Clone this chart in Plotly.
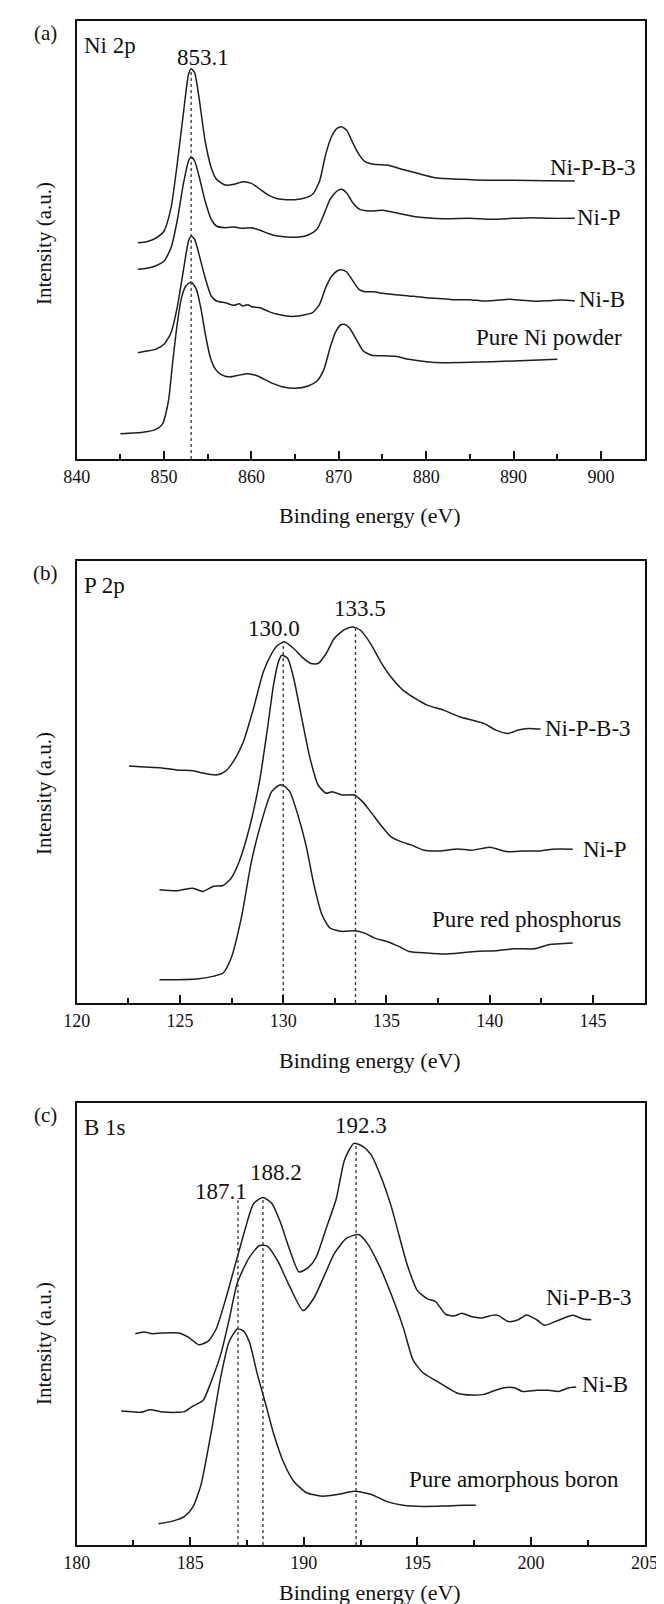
import plotly.graph_objects as go

FONT = "Liberation Serif, Times New Roman, DejaVu Serif, serif"
INK = "#1e1e1e"

# ---------------- Panel (a): Ni 2p ----------------
a_pure_x = [845.0, 846.5, 848.0, 849.0, 849.8, 850.5, 851.0, 851.5, 852.0, 852.5, 853.1, 853.7, 854.2, 854.8, 855.3, 855.9,
            856.5, 857.5, 858.5, 859.5, 860.5, 861.5, 862.5, 863.5, 865.0, 866.5, 867.5, 868.3, 869.0, 869.6, 870.2, 870.6,
            871.2, 872.0, 872.8, 873.8, 875.0, 876.5, 878.0, 880.0, 882.0, 885.0, 890.0, 895.0]
a_pure_y = [76, 78, 82, 88, 104, 174, 294, 404, 484, 519, 531, 509, 454, 364, 304, 269,
            254, 246, 251, 256, 251, 239, 226, 217, 212, 219, 234, 269, 334, 379, 402, 404,
            394, 359, 324, 311, 310, 308, 299, 292, 289, 290, 294, 299]

a_nib_x = [847.0, 848.0, 849.0, 850.0, 850.8, 851.5, 852.2, 852.8, 853.1, 853.5, 854.0, 854.7, 855.4, 856.0, 857.0, 858.0,
           858.6, 859.0, 859.6, 860.0, 861.0, 862.0, 863.0, 864.0, 865.0, 866.0, 867.0, 867.8, 868.5, 869.2, 869.8, 870.3,
           870.9, 871.5, 872.3, 873.0, 874.0, 875.0, 876.0, 877.0, 878.0, 879.0, 880.0, 882.0, 883.0, 885.0, 886.5, 888.0,
           889.5, 891.0, 892.5, 894.0, 895.5, 897.0]
a_nib_y = [319, 324, 329, 344, 379, 454, 564, 654, 669, 659, 614, 544, 489, 474, 469, 461,
           466, 459, 463, 457, 454, 442, 434, 429, 428, 432, 439, 464, 514, 549, 564, 568,
           561, 539, 509, 502, 502, 497, 494, 492, 489, 487, 484, 481, 478, 478, 474, 476,
           479, 476, 473, 475, 477, 474]

a_nip_x = [847.0, 848.0, 849.0, 850.0, 850.8, 851.5, 852.2, 852.8, 853.1, 853.5, 854.0, 854.7, 855.4, 856.0, 857.0, 858.0,
           859.0, 860.0, 861.0, 862.0, 863.0, 864.0, 865.5, 866.5, 867.5, 868.3, 869.0, 869.8, 870.3, 870.9, 871.6, 872.4,
           873.5, 875.0, 877.0, 879.0, 882.0, 885.0, 887.5, 890.0, 892.0, 894.0, 897.0]
a_nip_y = [569, 572, 579, 594, 634, 714, 824, 894, 906, 894, 849, 774, 719, 699, 694, 696,
           692, 694, 686, 676, 669, 666, 666, 672, 689, 734, 779, 804, 809, 798, 769, 749,
           744, 746, 736, 726, 721, 722, 719, 722, 724, 722, 722]

a_npb_x = [847.0, 848.0, 849.0, 850.0, 850.8, 851.5, 852.2, 852.8, 853.1, 853.5, 854.0, 854.7, 855.4, 856.0, 857.0, 858.0,
           859.0, 860.0, 861.0, 862.0, 863.0, 864.0, 865.0, 866.0, 867.0, 867.8, 868.5, 869.2, 869.8, 870.3, 870.9, 871.5,
           872.3, 873.0, 874.0, 875.5, 877.0, 879.0, 881.0, 884.0, 887.0, 890.0, 894.0, 897.0]
a_npb_y = [649, 652, 662, 684, 754, 884, 1034, 1154, 1171, 1159, 1084, 954, 874, 839, 822, 824,
           832, 827, 809, 791, 781, 778, 778, 782, 794, 834, 914, 969, 992, 997, 986, 954,
           914, 892, 884, 882, 871, 857, 844, 839, 836, 836, 835, 834]

a_peaks = [853.1]
a_peak_tops = [1168]
a_peak_labels = ["853.1"]
a_label_x = [854.4]
a_label_y = [1204]
a_names = ["Ni-P-B-3", "Ni-P", "Ni-B", "Pure Ni powder"]
a_name_x = [904.2, 902.4, 903.0, 902.6]
a_name_y = [874, 724, 479, 364]

# ---------------- Panel (b): P 2p ----------------
b_npb_x = [122.53, 123.27, 124.05, 124.84, 125.62, 126.01, 126.75, 127.18, 127.58, 128.07, 128.56, 129.04, 129.44, 129.73,
           130.08, 130.51, 130.9, 131.34, 131.69, 132.08, 132.47, 132.96, 133.35, 133.74, 134.23, 134.72, 135.21, 135.8,
           136.39, 136.97, 137.76, 138.54, 139.13, 139.71, 140.3, 140.89, 141.38, 141.87, 142.46]
b_npb_y = [712, 709, 707, 700, 698, 692, 685, 695, 725, 785, 885, 995, 1050, 1075,
           1085, 1065, 1040, 1020, 1020, 1050, 1095, 1122, 1130, 1120, 1080, 1025, 980, 940,
           915, 895, 880, 860, 850, 840, 820, 810, 820, 825, 823]

b_nip_x = [124.01, 124.84, 125.62, 126.11, 126.6, 127.09, 127.48, 127.87, 128.36, 128.85, 129.24, 129.53, 129.77, 129.93,
           130.22, 130.51, 130.9, 131.3, 131.69, 132.08, 132.37, 132.86, 133.45, 133.84, 134.23, 134.72, 135.21, 135.7,
           136.19, 136.78, 137.56, 138.44, 139.13, 140.01, 140.79, 141.67, 142.46, 143.04, 144.02]
b_nip_y = [340, 337, 345, 335, 350, 353, 375, 425, 525, 665, 825, 955, 1025, 1045,
           1035, 975, 855, 735, 655, 630, 635, 625, 625, 605, 575, 535, 500, 485,
           475, 460, 457, 463, 459, 468, 455, 457, 457, 462, 462]

b_pure_x = [124.01, 124.84, 125.81, 126.6, 127.09, 127.48, 127.97, 128.46, 128.95, 129.44, 129.83, 130.02, 130.32, 130.71,
            131.1, 131.49, 131.88, 132.27, 132.86, 133.45, 133.94, 134.43, 135.02, 135.6, 136.09, 136.97, 137.76, 138.54,
            139.32, 140.3, 141.18, 142.16, 142.85, 144.02]
b_pure_y = [70, 70, 72, 80, 90, 135, 255, 425, 545, 635, 655, 653, 635, 565,
            475, 355, 265, 225, 215, 217, 210, 195, 185, 170, 155, 150, 147, 150,
            155, 157, 163, 163, 175, 180]

b_peaks = [130.0, 133.5]
b_peak_tops = [1080, 1125]
b_peak_labels = ["130.0", "133.5"]
b_label_x = [129.55, 133.7]
b_label_y = [1125, 1185]
b_names = ["Ni-P-B-3", "Ni-P", "Pure red phosphorus"]
b_name_x = [146.96, 146.7, 146.47]
b_name_y = [825, 460, 250]

# ---------------- Panel (c): B 1s ----------------
c_npb_x = [182.58, 182.97, 183.33, 183.77, 184.49, 184.93, 185.38, 185.79, 186.14, 186.53, 186.98, 187.43, 187.78, 188.19,
           188.58, 188.94, 189.38, 189.79, 190.19, 190.54, 190.99, 191.43, 191.79, 192.2, 192.59, 192.95, 193.39, 193.84,
           194.19, 194.55, 194.99, 195.44, 195.79, 196.24, 196.6, 196.95, 197.4, 197.84, 198.29, 198.55, 199.0, 199.44,
           199.8, 200.25, 200.6, 201.05, 201.46, 201.85, 202.29, 202.65]
c_npb_y = [575, 580, 575, 577, 577, 565, 545, 555, 588, 663, 763, 863, 928, 946,
           931, 883, 803, 743, 755, 783, 863, 943, 1048, 1093, 1085, 1063, 1003, 923,
           843, 763, 693, 670, 663, 628, 623, 631, 621, 618, 625, 625, 608, 613,
           626, 613, 598, 608, 618, 625, 615, 613]

c_nib_x = [181.96, 182.44, 182.8, 183.24, 183.69, 184.4, 184.75, 185.11, 185.56, 185.91, 186.36, 186.71, 187.07, 187.6,
           188.05, 188.4, 188.85, 189.38, 189.97, 190.45, 190.9, 191.34, 191.88, 192.41, 192.77, 193.3, 193.84, 194.37,
           194.81, 195.26, 195.79, 196.33, 196.77, 197.4, 197.93, 198.29, 198.82, 199.27, 199.62, 200.25, 200.78, 201.22,
           201.67, 201.99]
c_nib_y = [365, 363, 361, 368, 363, 361, 363, 378, 393, 443, 523, 613, 713, 783,
           815, 813, 773, 703, 638, 673, 733, 793, 835, 845, 823, 763, 683, 593,
           503, 468, 448, 428, 413, 408, 410, 418, 428, 428, 418, 421, 421, 418,
           428, 430]

c_pure_x = [183.6, 184.22, 184.75, 185.11, 185.47, 185.91, 186.36, 186.71, 187.07, 187.34, 187.6, 187.96, 188.32, 188.67,
            189.12, 189.56, 190.1, 190.81, 191.52, 192.23, 192.95, 193.66, 194.37, 195.26, 196.15, 197.04, 197.57]
c_pure_y = [58, 65, 78, 103, 163, 303, 463, 553, 588, 583, 553, 463, 383, 303,
            223, 173, 143, 133, 138, 146, 138, 118, 108, 105, 106, 108, 108]

c_peaks = [187.1, 188.2, 192.3]
c_peak_tops = [938, 943, 1088]
c_peak_labels = ["187.1", "188.2", "192.3"]
c_label_x = [186.34, 188.78, 192.52]
c_label_y = [963, 1013, 1143]
c_names = ["Ni-P-B-3", "Ni-B", "Pure amorphous boron"]
c_name_x = [204.52, 204.34, 203.98]
c_name_y = [673, 438, 178]

W, H = 664, 1604
X0, X1 = 57, 649
panels = [
    dict(tag="(a)", core="Ni 2p", top=13, bot=451, xr=[840, 905], yr=[0, 1314], dtick=10, mdt=5, t0=840,
         series=[(a_pure_x, a_pure_y), (a_nib_x, a_nib_y), (a_nip_x, a_nip_y), (a_npb_x, a_npb_y)],
         peaks=a_peaks, tops=a_peak_tops, plabels=a_peak_labels, plx=a_label_x, ply=a_label_y,
         names=a_names, nx=a_name_x, ny=a_name_y, ytitle=236, xtitle=508),
    dict(tag="(b)", core="P 2p", top=553, bot=995, xr=[120, 147.5], yr=[0, 1328], dtick=5, mdt=2.5, t0=120,
         series=[(b_pure_x, b_pure_y), (b_nip_x, b_nip_y), (b_npb_x, b_npb_y)],
         peaks=b_peaks, tops=b_peak_tops, plabels=b_peak_labels, plx=b_label_x, ply=b_label_y,
         names=b_names, nx=b_name_x, ny=b_name_y, ytitle=786, xtitle=1052),
    dict(tag="(c)", core="B 1s", top=1095, bot=1537, xr=[180, 205], yr=[0, 1203], dtick=5, mdt=2.5, t0=180,
         series=[(c_pure_x, c_pure_y), (c_nib_x, c_nib_y), (c_npb_x, c_npb_y)],
         peaks=c_peaks, tops=c_peak_tops, plabels=c_peak_labels, plx=c_label_x, ply=c_label_y,
         names=c_names, nx=c_name_x, ny=c_name_y, ytitle=1336, xtitle=1584),
]

fig = go.Figure()
annotations = []
layout = {}

def py(px):
    return 1 - px / H

def txt(size):
    return dict(family=FONT, size=size, color="#111")

for i, p in enumerate(panels):
    n = "" if i == 0 else str(i + 1)
    xa, ya = "x" + n, "y" + n
    for sx, sy in p["series"]:
        fig.add_trace(go.Scatter(x=sx, y=sy, mode="lines", xaxis=xa, yaxis=ya,
                                 line=dict(color=INK, width=1.5, shape="spline", smoothing=0.6),
                                 showlegend=False, hoverinfo="skip"))
    for pk, tp in zip(p["peaks"], p["tops"]):
        fig.add_trace(go.Scatter(x=[pk, pk], y=[0, tp], mode="lines", xaxis=xa, yaxis=ya,
                                 line=dict(color="#333333", width=1.3, dash="dot"),
                                 showlegend=False, hoverinfo="skip"))
    for t, lx, ly in zip(p["plabels"], p["plx"], p["ply"]):
        annotations.append(dict(x=lx, y=ly, xref=xa, yref=ya, text=t, showarrow=False,
                                xanchor="center", yanchor="middle", font=txt(23)))
    for t, lx, ly in zip(p["names"], p["nx"], p["ny"]):
        annotations.append(dict(x=lx, y=ly, xref=xa, yref=ya, text=t, showarrow=False, xanchor="right",
                                yanchor="middle", font=txt(23)))
    annotations.append(dict(x=24 / W, y=py(p["top"] + 12), xref="paper", yref="paper", text=p["tag"],
                            showarrow=False, xanchor="center", yanchor="middle", font=txt(21)))
    annotations.append(dict(x=(X0 + 6) / W, y=py(p["top"] + 24), xref="paper", yref="paper", text=p["core"],
                            showarrow=False, xanchor="left", yanchor="middle", font=txt(23)))
    annotations.append(dict(x=363 / W, y=py(p["xtitle"]), xref="paper", yref="paper", text="Binding energy (eV)",
                            showarrow=False, xanchor="center", yanchor="middle", font=txt(22)))
    annotations.append(dict(x=23 / W, y=py(p["ytitle"]), xref="paper", yref="paper", text="Intensity (a.u.)",
                            showarrow=False, textangle=-90, xanchor="center", yanchor="middle", font=txt(21)))
    layout["xaxis" + n] = dict(domain=[X0 / W, X1 / W], range=p["xr"], anchor=ya, showline=True, mirror=True,
                               linecolor="#111", linewidth=2, showgrid=False, zeroline=False,
                               ticks="inside", ticklen=8, tickwidth=1.5, tickcolor="#111",
                               tick0=p["t0"], dtick=p["dtick"], ticklabelstandoff=0,
                               tickfont=txt(18),
                               minor=dict(ticks="inside", ticklen=5, tickwidth=1.5, tickcolor="#111",
                                          dtick=p["mdt"], tick0=p["t0"], showgrid=False))
    layout["yaxis" + n] = dict(domain=[py(p["bot"]), py(p["top"])], range=p["yr"], anchor=xa, showline=True,
                               mirror=True, linecolor="#111", linewidth=2, showgrid=False, zeroline=False,
                               ticks="", showticklabels=False)

fig.update_layout(width=W, height=H, margin=dict(l=0, r=0, t=0, b=0), plot_bgcolor="white",
                  paper_bgcolor="white", font=txt(18), annotations=annotations, **layout)
fig.write_html("out.html")
